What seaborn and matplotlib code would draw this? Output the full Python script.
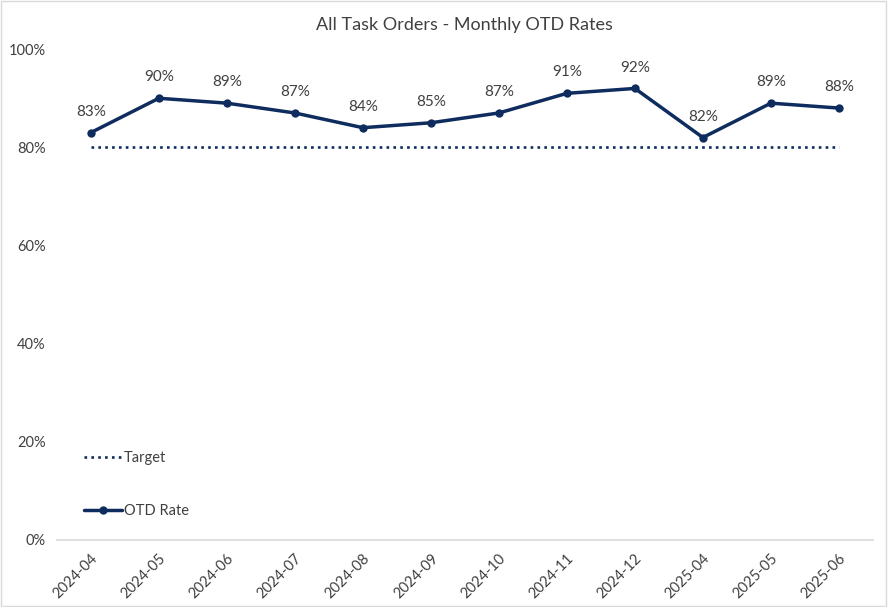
import matplotlib
matplotlib.use("Agg")
import matplotlib.pyplot as plt
import seaborn as sns
import pandas as pd
from matplotlib.lines import Line2D
from matplotlib.patches import Rectangle

months = ["2024-04", "2024-05", "2024-06", "2024-07", "2024-08", "2024-09",
          "2024-10", "2024-11", "2024-12", "2025-04", "2025-05", "2025-06"]
otd_rate = [83, 90, 89, 87, 84, 85, 87, 91, 92, 82, 89, 88]
target = [80] * len(months)
y_ticks = [0, 20, 40, 60, 80, 100]

sns.set_theme(style="white")
plt.rcParams["font.family"] = ["Lato", "DejaVu Sans"]

navy = "#0e2d5e"
txt = "#404040"
dots = (0, (1.0, 1.6))

df = pd.DataFrame({"month": months, "otd": otd_rate, "target": target})
df["x"] = range(len(months))

fig = plt.figure(figsize=(8.88, 6.07), dpi=100)
ax = fig.add_axes([0.064, 0.1104, 0.919, 0.8086])

sns.lineplot(data=df, x="x", y="target", ax=ax, color=navy, lw=1.9,
             linestyle=dots)
sns.lineplot(data=df, x="x", y="otd", ax=ax, color=navy, lw=2.5,
             marker="o", markersize=6, markeredgewidth=0)

for xi, v in zip(df["x"], otd_rate):
    ax.annotate(f"{v}%", (xi, v), xytext=(0, 10), textcoords="offset points",
                ha="center", va="bottom", fontsize=11, color=txt)

ax.set_xlim(-0.5, len(months) - 0.5)
ax.set_ylim(0, 100)
ax.set_yticks(y_ticks)
ax.set_yticklabels([f"{t}%" for t in y_ticks], fontsize=10.5, color=txt)
ax.set_xticks(df["x"])
ax.set_xticklabels(months, rotation=45, ha="right", rotation_mode="anchor",
                   fontsize=10.5, color=txt)
ax.tick_params(axis="both", length=0, pad=8)
ax.set_xlabel("")
ax.set_ylabel("")
for s in ["top", "right", "left"]:
    ax.spines[s].set_visible(False)
ax.spines["bottom"].set_color("#d9d9d9")
ax.spines["bottom"].set_linewidth(1.2)

ax.set_title("All Task Orders - Monthly OTD Rates", fontsize=13, color=txt,
             pad=14)

handles = [
    Line2D([], [], color=navy, lw=1.9, linestyle=dots),
    Line2D([], [], color=navy, lw=2.5, marker="o", markersize=6,
           markeredgewidth=0),
]
leg = ax.legend(handles, ["Target", "OTD Rate"], loc="center left",
                bbox_to_anchor=(0.017, 0.113), frameon=False, fontsize=10.5,
                labelspacing=2.7, handlelength=2.6, handletextpad=0.15)
for t in leg.get_texts():
    t.set_color(txt)

fig.patches.append(Rectangle((0.001, 0.001), 0.997, 0.997, transform=fig.transFigure,
                             fill=False, edgecolor="#d9d9d9", lw=1))

fig.savefig("out.png", dpi=100)
